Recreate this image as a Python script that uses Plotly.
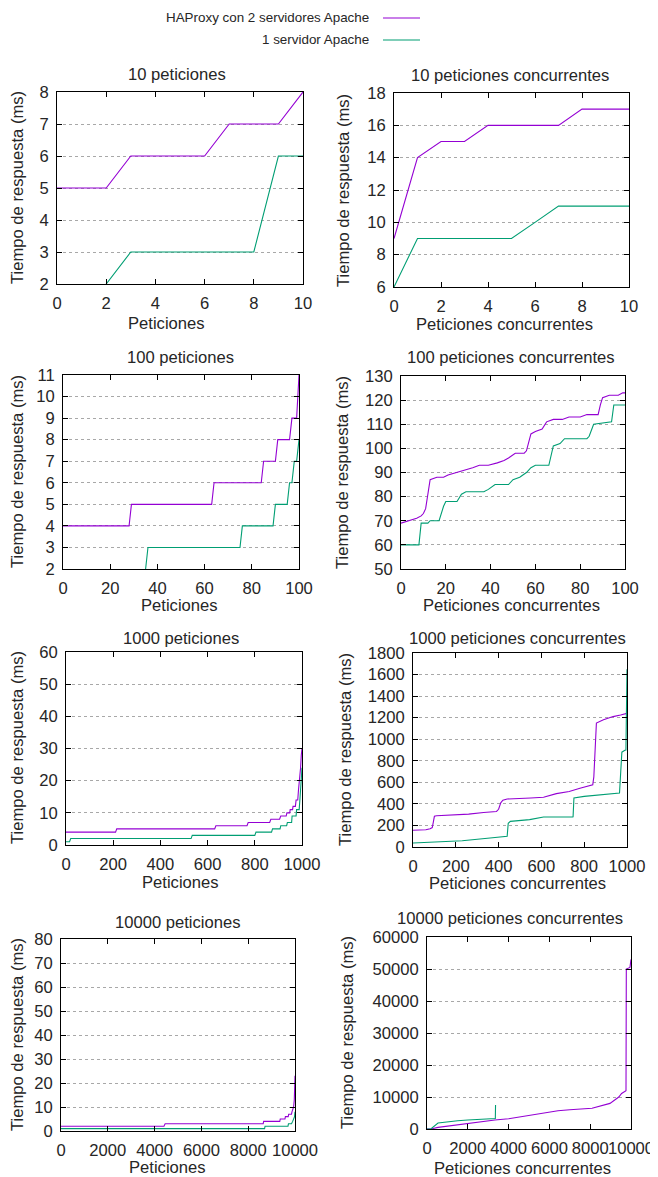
import plotly.graph_objects as go

# ---------------- data ----------------
# 10 peticiones
x_10 = [0, 1, 2, 3, 4, 5, 6, 7, 8, 9, 10]
ha_10 = [5, 5, 5, 6, 6, 6, 6, 7, 7, 7, 8]
ap_10 = [1, 1, 2, 3, 3, 3, 3, 3, 3, 6, 6]

# 10 peticiones concurrentes
x_10c = [0, 1, 2, 3, 4, 5, 6, 7, 8, 9, 10]
ha_10c = [9, 14, 15, 15, 16, 16, 16, 16, 17, 17, 17]
ap_10c = [6, 9, 9, 9, 9, 9, 10, 11, 11, 11, 11]

# 100 peticiones
ha_100_x = [0, 28, 29, 63, 64, 84, 85, 90, 91, 96, 97, 99, 100]
ha_100_y = [4, 4, 5, 5, 6, 6, 7, 7, 8, 8, 9, 9, 11]
ap_100_x = [0, 34, 35, 36, 75, 76, 89, 90, 95, 96, 97, 98, 99, 100]
ap_100_y = [1, 1, 2, 3, 3, 4, 4, 5, 5, 6, 6, 7, 7, 8]

# 100 peticiones concurrentes
ha_100c_x = [0, 4, 7, 9, 10, 11, 13, 16, 19, 21, 25, 29, 32, 35, 39, 43, 46, 48, 51,
             55, 56, 58, 60, 63, 65, 68, 72, 75, 80, 83, 88, 89, 90, 93, 97, 99, 100]
ha_100c_y = [69, 70, 71, 72, 73, 75, 87, 88, 88, 89, 90, 91, 92, 93, 93, 94, 95, 96, 98,
             98, 99, 106, 107, 108, 111, 112, 112, 113, 113, 114, 114, 118, 121, 122, 122, 123, 123]
ap_100c_x = [0, 8, 9, 12, 13, 17, 19, 20, 25, 27, 29, 37, 39, 42, 48, 50, 53, 56, 58, 60,
             66, 68, 71, 73, 83, 84, 86, 94, 95, 100]
ap_100c_y = [60, 60, 69, 69, 70, 70, 76, 78, 78, 81, 82, 82, 83, 85, 85, 87, 88, 90, 92, 93,
             93, 101, 102, 104, 104, 105, 110, 111, 118, 118]

# 1000 peticiones
ha_1000_x = [0, 210, 215, 630, 635, 767, 772, 863, 868, 905, 910, 933, 936, 948, 950, 960,
             962, 972, 975, 982, 985, 990, 994, 997, 1000]
ha_1000_y = [4, 4, 5, 5, 6, 6, 7, 7, 8, 8, 9, 9, 10, 10, 11, 11,
             12, 12, 14, 14, 17, 20, 24, 28, 30]
ap_1000_x = [0, 15, 20, 530, 535, 800, 805, 871, 875, 907, 910, 935, 938, 956, 958, 975,
             977, 988, 991, 996, 1000]
ap_1000_y = [1, 1, 2, 2, 3, 3, 4, 4, 5, 5, 6, 6, 7, 7, 9, 9,
             11, 11, 14, 20, 24]

# 1000 peticiones concurrentes
ha_1000c_x = [0, 60, 80, 90, 95, 100, 110, 200, 260, 330, 390, 400, 410, 420, 440, 550,
              610, 670, 730, 780, 840, 845, 850, 857, 890, 935, 970, 1000]
ha_1000c_y = [155, 160, 170, 180, 230, 285, 290, 295, 305, 320, 330, 350, 410, 435, 445, 455,
              462, 495, 515, 545, 578, 650, 900, 1150, 1180, 1210, 1225, 1240]
ap_1000c_x = [0, 80, 230, 360, 420, 440, 445, 455, 545, 610, 745, 748, 752, 800, 965, 972,
              976, 990, 995, 1000]
ap_1000c_y = [37, 43, 58, 84, 95, 100, 220, 238, 254, 278, 278, 280, 455, 470, 500, 700,
              880, 897, 900, 1650]

# 10000 peticiones
ha_10000_x = [0, 4400, 4450, 8640, 8660, 9350, 9370, 9570, 9590, 9710, 9730, 9850, 9870,
              9940, 9970, 9990, 10000]
ha_10000_y = [2, 2, 3, 3, 4, 4, 5, 5, 6, 6, 7, 7, 8, 10, 13, 17, 23]
ap_10000_x = [0, 8700, 8720, 9700, 9720, 9850, 9900, 9950, 9980, 10000]
ap_10000_y = [1, 1, 2, 2, 3, 3, 4, 5, 6, 8]

# 10000 peticiones concurrentes
ha_10000c_x = [0, 250, 540, 1000, 1520, 2000, 3330, 4000, 4800, 5500, 6420, 7000, 8090,
               8970, 9200, 9400, 9540, 9755, 9770, 9950, 10000]
ha_10000c_y = [0, 100, 500, 900, 1250, 1600, 2800, 3200, 4060, 4700, 5700, 6000, 6500,
               8000, 9000, 10000, 11100, 12000, 50000, 50500, 53000]
ap_10000c_x = [0, 200, 540, 700, 1130, 1500, 2000, 2500, 3330, 3350, 3360]
ap_10000c_y = [0, 100, 1875, 2000, 2500, 2600, 2800, 3000, 3200, 3300, 7500]

series_names = ["HAProxy con 2 servidores Apache", "1 servidor Apache"]
titles = ["10 peticiones", "10 peticiones concurrentes",
          "100 peticiones", "100 peticiones concurrentes",
          "1000 peticiones", "1000 peticiones concurrentes",
          "10000 peticiones", "10000 peticiones concurrentes"]
xlabels = ["Peticiones", "Peticiones concurrentes"] * 4
ylabel = "Tiempo de respuesta (ms)"

x_ranges = [[0, 10], [0, 10], [0, 100], [0, 100], [0, 1000], [0, 1000], [0, 10000], [0, 10000]]
x_dticks = [2, 2, 20, 20, 200, 200, 2000, 2000]
y_ranges = [[2, 8], [6, 18], [2, 11], [50, 130], [0, 60], [0, 1800], [0, 80], [0, 60000]]
y_dticks = [1, 2, 1, 10, 10, 200, 10, 10000]

panels = [
    (x_10, ha_10, x_10, ap_10),
    (x_10c, ha_10c, x_10c, ap_10c),
    (ha_100_x, ha_100_y, ap_100_x, ap_100_y),
    (ha_100c_x, ha_100c_y, ap_100c_x, ap_100c_y),
    (ha_1000_x, ha_1000_y, ap_1000_x, ap_1000_y),
    (ha_1000c_x, ha_1000c_y, ap_1000c_x, ap_1000c_y),
    (ha_10000_x, ha_10000_y, ap_10000_x, ap_10000_y),
    (ha_10000c_x, ha_10000c_y, ap_10000c_x, ap_10000c_y),
]

# ---------------- layout geometry (screen pixels) ----------------
VW, VH = 658, 1177          # browser window
OX, OY = 8, 8               # default page body margin
FW, FH = VW - OX, VH - OY   # figure size so it ends at the window edge

plot_px = [  # left, right, top, bottom
    (57, 303, 92, 284), (394, 629, 93, 287),
    (63, 299, 375, 569), (401, 625, 376, 569),
    (66, 302, 652, 845), (413, 627, 653, 847),
    (61, 295, 939, 1131), (427, 631, 937, 1129),
]
title_px = [(177, 75), (510, 76), (180, 358), (511, 358),
            (181, 638), (517, 638), (177, 922), (510, 918)]
xlabel_px = [(166, 323), (504, 324), (179, 605), (511, 605),
             (181, 882), (517, 883), (167, 1167), (522, 1168)]
ylabel_px = [(18, 188), (343, 190), (18, 472), (343, 472),
             (18, 748), (345, 750), (17, 1035), (347, 1033)]

PURPLE = "#9400d3"
GREEN = "#009e73"
FONT = "Liberation Sans, Arial, sans-serif"
FS = 16.6
TXT = "#262626"

fig = go.Figure()
layout = dict(
    width=FW, height=FH,
    margin=dict(l=0, r=0, t=0, b=0, pad=0, autoexpand=False),
    paper_bgcolor="white", plot_bgcolor="white",
    showlegend=False,
    font=dict(family=FONT, size=FS, color=TXT),
)

def px(x):
    return (x - OX) / FW

def py(y):
    return 1 - (y - OY) / FH

annotations = []
for i, (hx, hy, ax_, ay) in enumerate(panels):
    n = "" if i == 0 else str(i + 1)
    xa, ya = "x" + n, "y" + n
    fig.add_trace(go.Scatter(x=hx, y=hy, mode="lines", xaxis=xa, yaxis=ya,
                             line=dict(color=PURPLE, width=1.1), name=series_names[0],
                             hoverinfo="skip"))
    fig.add_trace(go.Scatter(x=ax_, y=ay, mode="lines", xaxis=xa, yaxis=ya,
                             line=dict(color=GREEN, width=1.1), name=series_names[1],
                             hoverinfo="skip"))
    l, r, t, b = plot_px[i]
    layout["xaxis" + n] = dict(
        domain=[px(l), px(r)], anchor=ya, range=x_ranges[i], dtick=x_dticks[i], tick0=0,
        showgrid=False, zeroline=False, showline=True, linecolor="black", linewidth=1,
        mirror="allticks", ticks="inside", ticklen=5, tickcolor="black",
        tickformat="d", tickangle=0, tickfont=dict(size=FS, family=FONT, color=TXT),
        ticklabelstandoff=4, automargin=False,
    )
    layout["yaxis" + n] = dict(
        domain=[py(b), py(t)], anchor=xa, range=y_ranges[i], dtick=y_dticks[i], tick0=0,
        showgrid=True, gridcolor="#a8a8a8", griddash="dot", gridwidth=1,
        zeroline=False, showline=True, linecolor="black", linewidth=1,
        mirror="allticks", ticks="inside", ticklen=5, tickcolor="black",
        tickformat="d", tickfont=dict(size=FS, family=FONT, color=TXT),
        ticklabelstandoff=4, automargin=False,
    )
    tx, ty = title_px[i]
    annotations.append(dict(text=titles[i], x=px(tx), y=py(ty), xref="paper", yref="paper",
                            xanchor="center", yanchor="middle", showarrow=False,
                            font=dict(size=FS, family=FONT, color=TXT)))
    lx, ly = xlabel_px[i]
    annotations.append(dict(text=xlabels[i], x=px(lx), y=py(ly), xref="paper", yref="paper",
                            xanchor="center", yanchor="middle", showarrow=False,
                            font=dict(size=FS, family=FONT, color=TXT)))
    vx, vy = ylabel_px[i]
    annotations.append(dict(text=ylabel, x=px(vx), y=py(vy), xref="paper", yref="paper",
                            xanchor="center", yanchor="middle", showarrow=False, textangle=-90,
                            font=dict(size=FS, family=FONT, color=TXT)))

# legend (gnuplot style: text on the left, sample on the right)
legend_rows = [(series_names[0], PURPLE, 18), (series_names[1], GREEN, 40)]
shapes = []
for name, col, yrow in legend_rows:
    annotations.append(dict(text=name, x=px(371), y=py(yrow), xref="paper", yref="paper",
                            xanchor="right", yanchor="middle", showarrow=False,
                            font=dict(size=13.4, family=FONT, color=TXT)))
    shapes.append(dict(type="line", xref="paper", yref="paper",
                       x0=px(383), x1=px(420), y0=py(yrow), y1=py(yrow),
                       line=dict(color=col, width=1.1)))

layout["annotations"] = annotations
layout["shapes"] = shapes
fig.update_layout(**layout)
fig.write_html("out.html")
